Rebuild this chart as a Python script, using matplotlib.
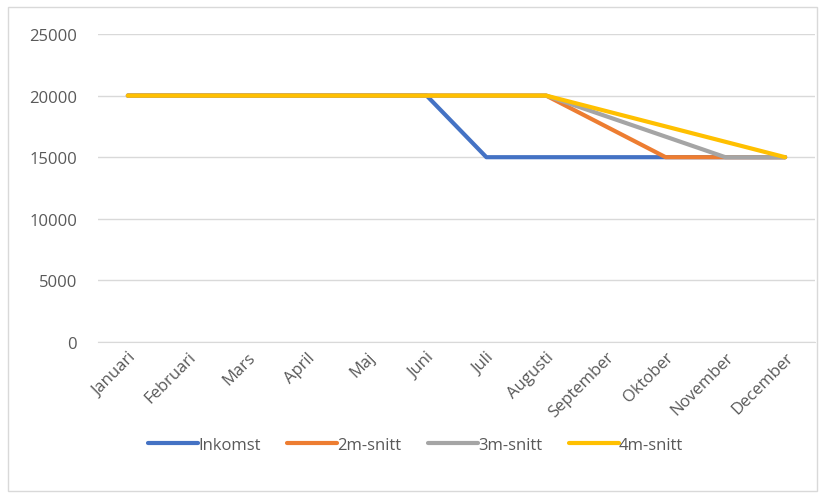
import matplotlib
matplotlib.use("Agg")
import matplotlib.pyplot as plt
from matplotlib.patches import Rectangle

months = ["Januari", "Februari", "Mars", "April", "Maj", "Juni", "Juli",
          "Augusti", "September", "Oktober", "November", "December"]
inkomst = [20000, 20000, 20000, 20000, 20000, 20000, 15000, 15000, 15000, 15000, 15000, 15000]
snitt2 = [20000, 20000, 20000, 20000, 20000, 20000, 20000, 20000, 17500, 15000, 15000, 15000]
snitt3 = [20000, 20000, 20000, 20000, 20000, 20000, 20000, 20000, 18333, 16667, 15000, 15000]
snitt4 = [20000, 20000, 20000, 20000, 20000, 20000, 20000, 20000, 18750, 17500, 16250, 15000]
series = [("Inkomst", inkomst, "#4472C4"), ("2m-snitt", snitt2, "#ED7D31"),
          ("3m-snitt", snitt3, "#A5A5A5"), ("4m-snitt", snitt4, "#FFC000")]
yticks = [0, 5000, 10000, 15000, 20000, 25000]

plt.rcParams['font.family'] = ['Open Sans', 'DejaVu Sans']
fig = plt.figure(figsize=(8.31, 5.02), dpi=100)
W, H = 831, 502
ax = fig.add_axes([98 / W, 1 - 343 / H, (815 - 98) / W, (343 - 35) / H])

x = list(range(len(months)))
for name, vals, col in series:
    ax.plot(x, vals, color=col, lw=3, label=name, solid_capstyle='round', solid_joinstyle='round')

ax.set_xlim(-0.5, len(months) - 0.5)
ax.set_ylim(0, 25000)
ax.set_yticks(yticks)
ax.set_yticklabels([str(v) for v in yticks])
ax.set_xticks(x)
ax.set_xticklabels(months, rotation=45, ha='right', rotation_mode='anchor')
ax.grid(axis='y', color='#D9D9D9', lw=1)
ax.set_axisbelow(True)
for s in ['top', 'right', 'left']:
    ax.spines[s].set_visible(False)
ax.spines['bottom'].set_color('#D9D9D9')
ax.tick_params(axis='both', length=0, colors='#595959', labelsize=12)
ax.tick_params(axis='y', pad=15)
ax.tick_params(axis='x', pad=5)

leg = fig.legend(loc='center', bbox_to_anchor=(0.5, 1 - 446 / H), ncol=4, frameon=False,
                 fontsize=12, handlelength=3.0, handletextpad=0.0, columnspacing=1.6)
for t in leg.get_texts():
    t.set_color('#595959')
for l in leg.get_lines():
    l.set_linewidth(3)

fig.patches.append(Rectangle((8 / W, 1 - 492 / H), (817 - 8) / W, (492 - 8) / H,
                             transform=fig.transFigure, fill=False, edgecolor='#D9D9D9', lw=1))
fig.savefig("out.png", dpi=100)
